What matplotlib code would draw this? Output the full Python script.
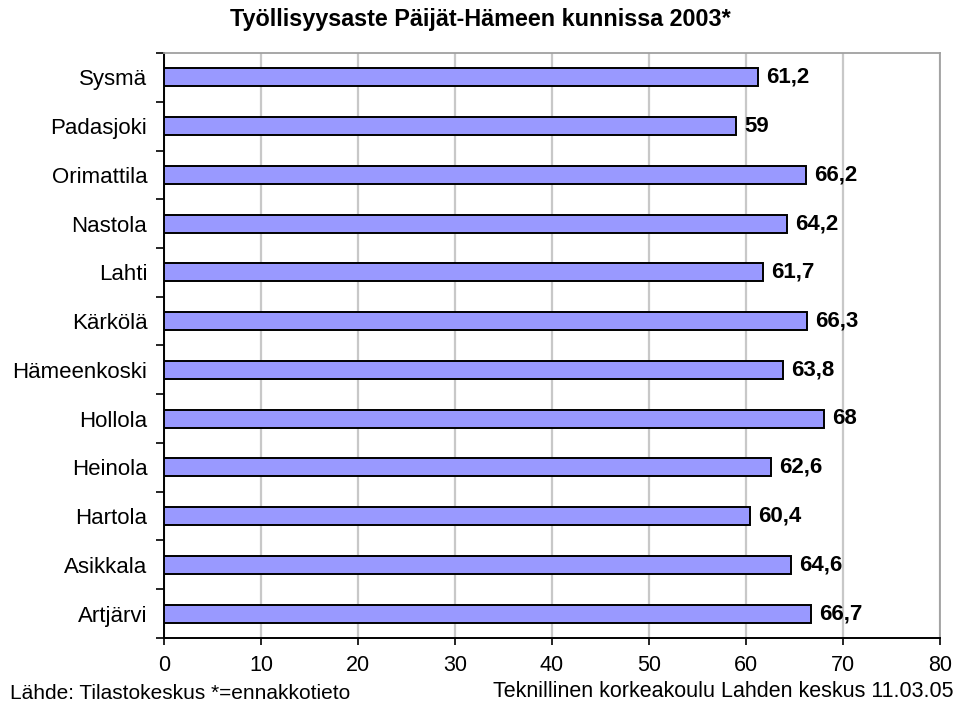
import matplotlib.pyplot as plt
import numpy as np

plt.rcParams['font.family'] = ['Liberation Sans', 'DejaVu Sans']

# kunnat alhaalta ylos
kunnat = ['Artjärvi', 'Asikkala', 'Hartola', 'Heinola', 'Hollola', 'Hämeenkoski',
          'Kärkölä', 'Lahti', 'Nastola', 'Orimattila', 'Padasjoki', 'Sysmä']
arvot = [66.7, 64.6, 60.4, 62.6, 68, 63.8, 66.3, 61.7, 64.2, 66.2, 59, 61.2]
arvo_tekstit = ['66,7', '64,6', '60,4', '62,6', '68', '63,8',
                '66,3', '61,7', '64,2', '66,2', '59', '61,2']
x_ticks = [0, 10, 20, 30, 40, 50, 60, 70, 80]

fig = plt.figure(figsize=(9.56, 7.04), dpi=100)
ax = fig.add_axes([0.1715, 0.0938, 0.8118, 0.8309])

y = np.arange(len(kunnat))
ax.barh(y, arvot, height=0.37, color='#9999ff', edgecolor='black', linewidth=1.4, zorder=3)

for yi, v, t in zip(y, arvot, arvo_tekstit):
    ax.annotate(t, (v, yi), xytext=(6, 0), textcoords='offset points',
                va='center', ha='left', fontsize=16, fontweight='bold', zorder=4)

ax.set_xlim(0, 80)
ax.set_ylim(-0.5, len(kunnat) - 0.5)
ax.set_xticks(x_ticks)
ax.set_xticklabels([str(v) for v in x_ticks], fontsize=15.5)
ax.tick_params(axis='x', direction='out', length=5, width=1.2, pad=7)

# kategoriarajat tikkeina, nimet keskelle
ax.set_yticks(y)
ax.set_yticklabels(kunnat, fontsize=16)
ax.tick_params(axis='y', which='major', length=0, pad=12)
ax.set_yticks(np.arange(-0.5, len(kunnat), 1.0), minor=True)
ax.tick_params(axis='y', which='minor', direction='out', length=6, width=1.2)

ax.xaxis.grid(True, color='#c8c8c8', linewidth=1.6, zorder=0)
ax.set_axisbelow(True)

for s in ['top', 'right']:
    ax.spines[s].set_color('#a0a0a0')
    ax.spines[s].set_linewidth(1.3)
for s in ['left', 'bottom']:
    ax.spines[s].set_color('black')
    ax.spines[s].set_linewidth(1.4)

fig.text(0.502, 0.972, 'Työllisyysaste Päijät-Hämeen kunnissa 2003*', ha='center', va='center',
         fontsize=16.8, fontweight='bold')
fig.text(0.010, 0.015, 'Lähde: Tilastokeskus *=ennakkotieto', ha='left', va='center', fontsize=15)
fig.text(0.997, 0.018, 'Teknillinen korkeakoulu Lahden keskus 11.03.05', ha='right', va='center', fontsize=15.5)

fig.savefig('out.png', dpi=100)
